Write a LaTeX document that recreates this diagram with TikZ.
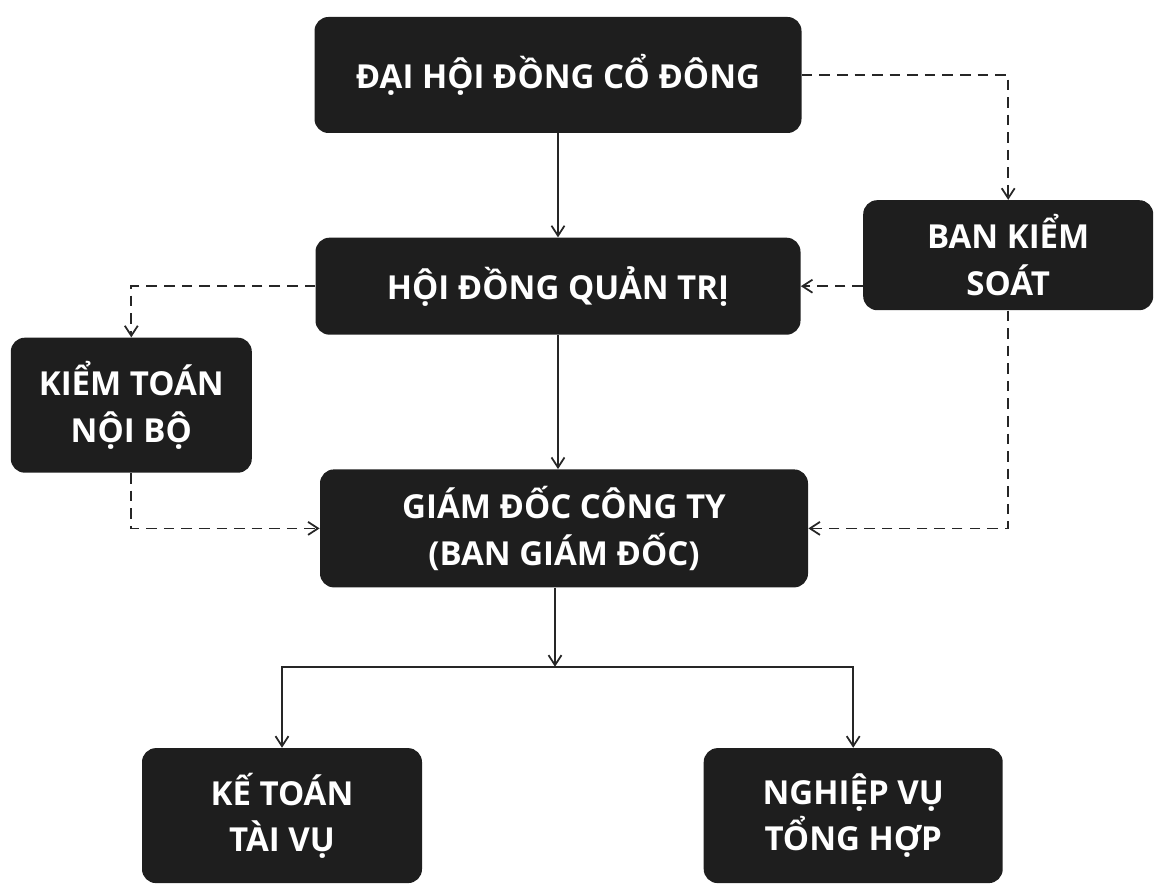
\documentclass[tikz,border=0pt]{standalone}
\usepackage{fontspec}
\setmainfont{Open Sans}
\usetikzlibrary{positioning, arrows.meta}
\definecolor{boxdark}{HTML}{1E1E1E}
\definecolor{linedark}{HTML}{262626}

\begin{document}
\begin{tikzpicture}[
    node distance=2cm and 3cm,
    box/.style={rectangle, rounded corners=0.28cm, fill=boxdark, text=white, align=center,
        font=\bfseries\fontsize{18.8}{26.5}\selectfont, inner sep=0pt},
    arrow/.style={-{Straight Barb[length=2mm, width=2.6mm]}, line width=1pt, draw=linedark},
    dasharrow/.style={arrow, dash pattern=on 6pt off 4pt}
]
    \useasboundingbox (0,0) rectangle (23.1,-17.68);

    % Cấp trên
    \node[box, minimum width=9.74cm, minimum height=2.32cm] (dhcd) at (11.16,-1.50) {ĐẠI HỘI ĐỒNG CỔ ĐÔNG};
    \node[box, minimum width=9.7cm, minimum height=1.94cm, below=2.08cm of dhcd] (hdqt) {HỘI ĐỒNG QUẢN TRỊ};
    \node[box, minimum width=5.8cm, minimum height=2.2cm, right=1.24cm of hdqt, yshift=0.62cm] (bks) {BAN KIỂM\\SOÁT};
    \node[box, minimum width=4.82cm, minimum height=2.7cm, left=1.26cm of hdqt, yshift=-2.38cm] (ktnb) {KIỂM TOÁN\\NỘI BỘ};

    % Điều hành
    \node[box, minimum width=9.76cm, minimum height=2.36cm, below=2.68cm of hdqt, xshift=0.12cm] (gd) {GIÁM ĐỐC CÔNG TY\\(BAN GIÁM ĐỐC)};

    % Bộ phận
    \node[box, minimum width=5.6cm, minimum height=2.7cm, below=3.2cm of gd, xshift=-5.64cm] (ktvu) {KẾ TOÁN\\TÀI VỤ};
    \node[box, minimum width=5.98cm, minimum height=2.7cm, right=5.62cm of ktvu] (nvth) {NGHIỆP VỤ\\TỔNG HỢP};

    \coordinate[below=1.58cm of gd.south, xshift=-0.18cm] (split);

    % Đường nối
    \draw[arrow] (dhcd) -- (hdqt);
    \draw[arrow] (hdqt) -- (hdqt.south |- gd.north);
    \draw[arrow] (gd.south -| split) -- (split);
    \draw[arrow] (split) -| (ktvu.north);
    \draw[arrow] (split) -| (nvth.north);

    \draw[dasharrow] (dhcd.east) -| (bks.north);
    \draw[dasharrow] (bks.west |- hdqt.east) -- (hdqt.east);
    \draw[dasharrow] (hdqt.west) -| (ktnb.north);
    \draw[dasharrow] (ktnb.south) |- (gd.west);
    \draw[dasharrow] (bks.south) |- (gd.east);

\end{tikzpicture}
\end{document}
